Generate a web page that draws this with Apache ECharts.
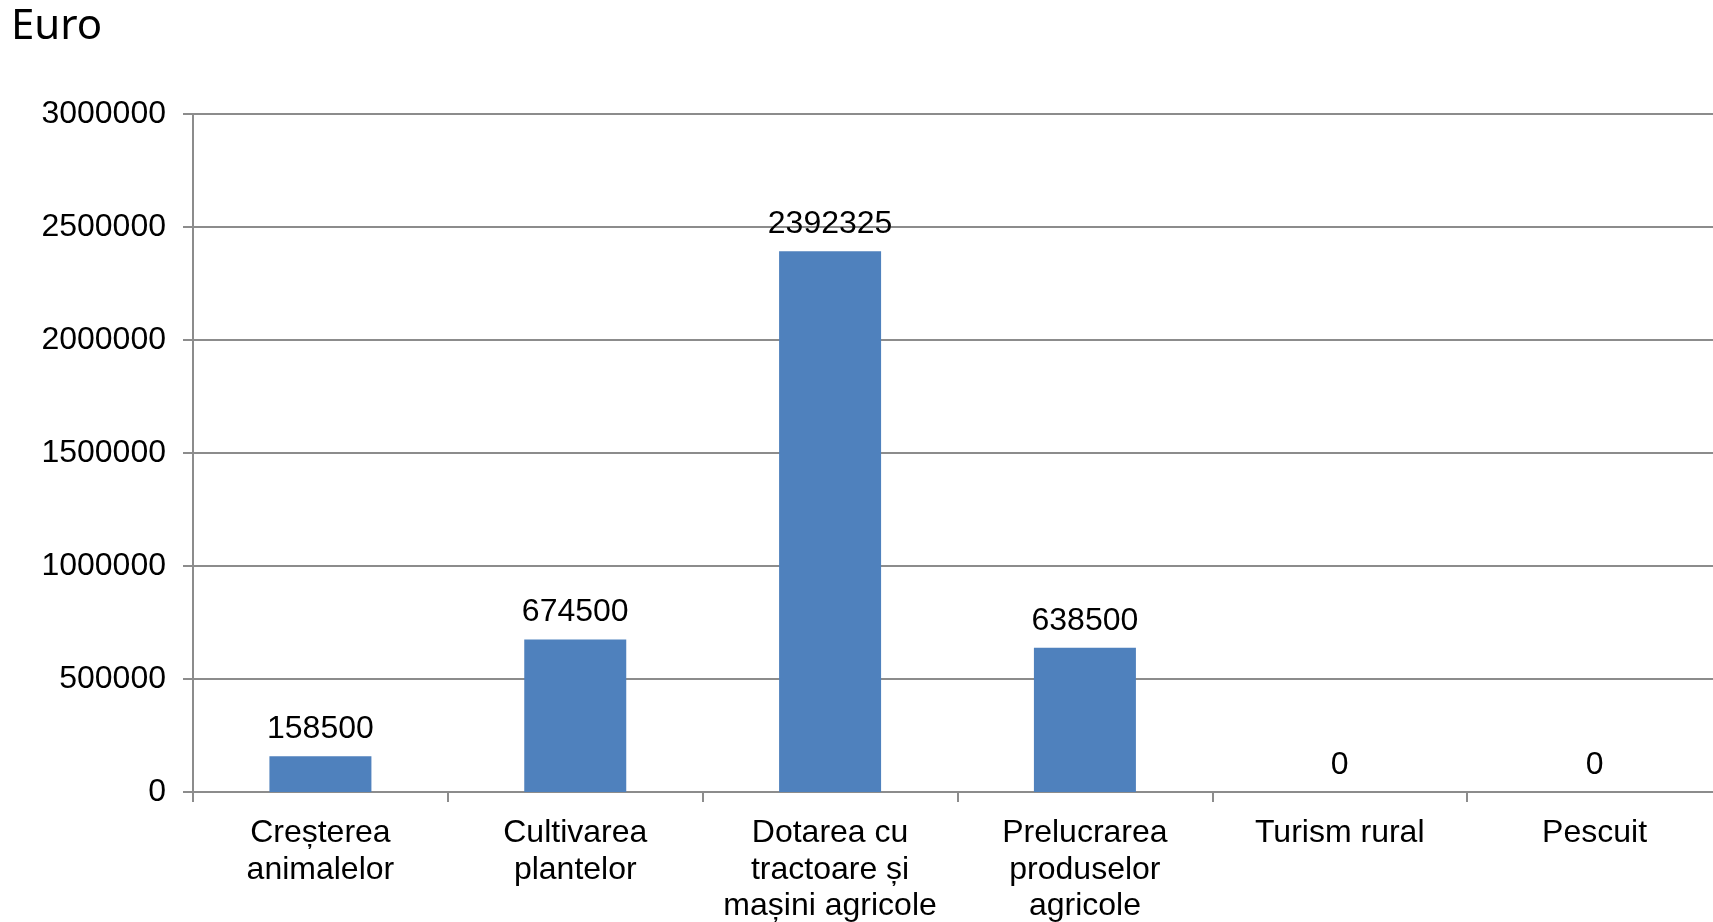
<!DOCTYPE html>
<html>
<head>
<meta charset="utf-8">
<script src="https://cdn.jsdelivr.net/npm/echarts@6/dist/echarts.min.js"></script>
<style>
html,body{margin:0;padding:0;background:#fff;}
#c{width:1713px;height:922px;}
</style>
</head>
<body>
<div id="c"></div>
<script>
const categories = [
  "Creșterea\nanimalelor",
  "Cultivarea\nplantelor",
  "Dotarea cu\ntractoare și\nmașini agricole",
  "Prelucrarea\nproduselor\nagricole",
  "Turism rural",
  "Pescuit"
];
const values = [158500, 674500, 2392325, 638500, 0, 0];
const yTicks = { min: 0, max: 3000000, interval: 500000 };
const unitLabel = "Euro";

const chart = echarts.init(document.getElementById('c'));
chart.setOption({
  animation: false,
  backgroundColor: '#ffffff',
  graphic: [{
    type: 'text',
    left: 11,
    top: 6,
    style: {
      text: unitLabel,
      font: '42px "Noto Sans"',
      fill: '#000000'
    }
  }],
  grid: { left: 193, top: 114, width: 1529, height: 678, containLabel: false, outerBoundsMode: 'none' },
  xAxis: {
    type: 'category',
    data: categories,
    axisLine: { lineStyle: { color: '#8c8c8c', width: 2 } },
    axisTick: { show: true, length: 10, lineStyle: { color: '#8c8c8c', width: 2 } },
    axisLabel: {
      interval: 0,
      margin: 23,
      color: '#000',
      fontFamily: 'Liberation Sans',
      fontSize: 32,
      lineHeight: 36.6,
      align: 'center'
    },
    splitLine: { show: false }
  },
  yAxis: {
    type: 'value',
    min: yTicks.min,
    max: yTicks.max,
    interval: yTicks.interval,
    axisLine: { show: true, lineStyle: { color: '#8c8c8c', width: 2 } },
    axisTick: { show: true, length: 10, lineStyle: { color: '#8c8c8c', width: 2 } },
    axisLabel: {
      margin: 27,
      color: '#000',
      fontFamily: 'Liberation Sans',
      fontSize: 32,
      formatter: function (v) { return String(v); }
    },
    splitLine: { show: true, lineStyle: { color: '#8c8c8c', width: 2 } }
  },
  series: [{
    type: 'bar',
    data: values,
    barWidth: 102,
    itemStyle: { color: '#4F81BD' },
    label: {
      show: true,
      position: 'top',
      distance: 11,
      color: '#000',
      fontFamily: 'Liberation Sans',
      fontSize: 32
    }
  }]
});
</script>
</body>
</html>
